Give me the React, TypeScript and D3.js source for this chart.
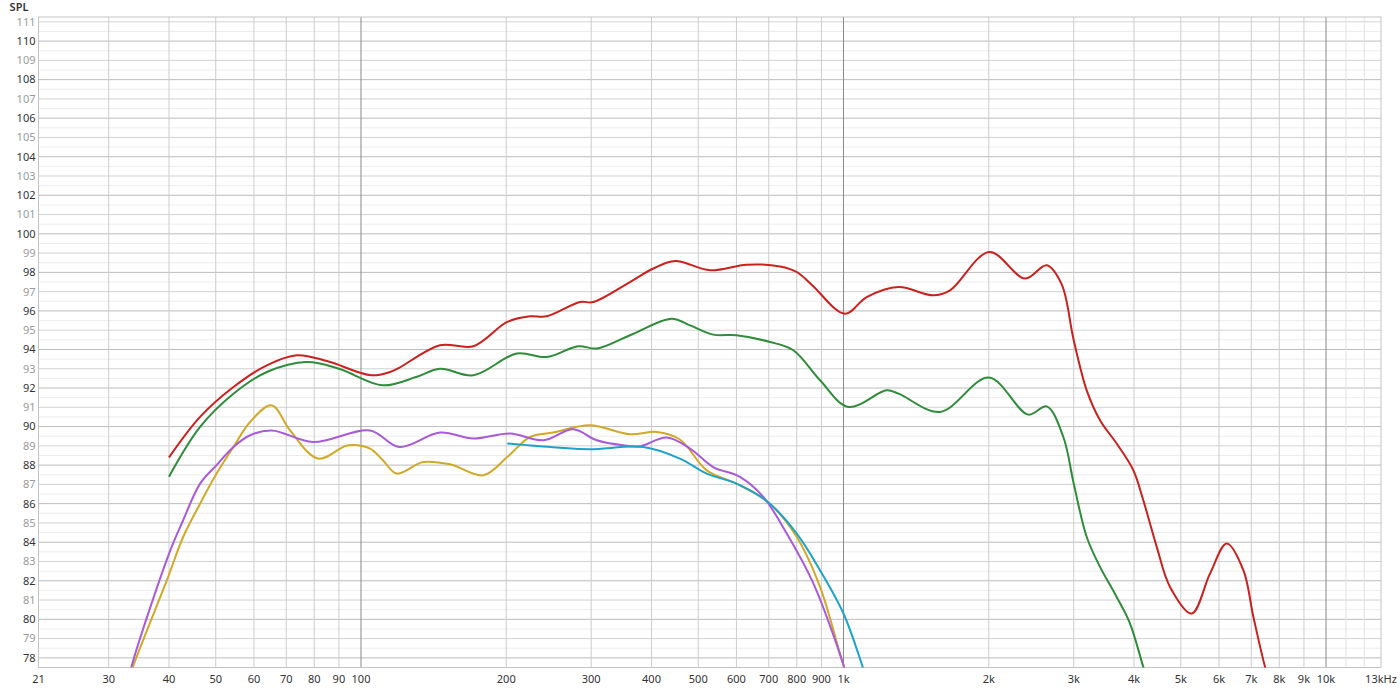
import * as d3 from "d3";

// frequency (Hz) / SPL (dB)
const redFreq = [40, 46.4, 54.4, 63.8, 73.6, 85, 105, 114.8, 120, 145.8, 170.9, 201, 224, 242.6, 284.4, 303, 361, 403.6, 447.5, 529, 630, 738.6, 800, 860, 1007, 1117, 1300, 1535, 1663, 2005, 2378, 2637, 2830, 3000, 3192, 3401, 3682, 3988, 4181, 4458, 4750, 5267, 5748, 6227, 6740, 7070, 7476, 7700];
const redSpl = [88.4, 90.5, 92.05, 93.18, 93.7, 93.4, 92.66, 92.83, 93.05, 94.22, 94.17, 95.43, 95.72, 95.72, 96.46, 96.46, 97.5, 98.2, 98.59, 98.11, 98.4, 98.31, 98.02, 97.35, 95.86, 96.72, 97.24, 96.81, 97.07, 99.06, 97.68, 98.37, 97.4, 94.48, 91.88, 90.33, 89.12, 87.73, 86.18, 83.76, 81.68, 80.3, 82.37, 83.93, 82.55, 80.13, 77.53, 76.5];

const greenFreq = [40, 46.4, 54.4, 63.8, 77.2, 90, 111, 130, 145.8, 170.9, 210.2, 242.6, 282, 308, 361, 440.5, 480.8, 537, 600, 704, 787, 894, 1023, 1229, 1300, 1585, 2000, 2415, 2637, 2855, 3000, 3192, 3401, 3682, 3925, 4181, 4300];
const greenSpl = [87.4, 89.98, 91.7, 92.83, 93.35, 93.0, 92.14, 92.57, 93.0, 92.66, 93.79, 93.61, 94.17, 94.05, 94.74, 95.6, 95.25, 94.77, 94.74, 94.39, 93.96, 92.4, 91.02, 91.88, 91.71, 90.76, 92.54, 90.62, 91.05, 89.46, 87.04, 84.27, 82.72, 81.16, 79.78, 77.53, 76.6];

const goldFreq = [33.0, 33.7, 39.6, 42.8, 46.4, 50.2, 54.4, 58.9, 65.3, 71.3, 81.5, 94.1, 104.4, 111, 118.6, 134.6, 153, 179.3, 201, 224, 250.3, 298, 361, 410, 458, 520.7, 600, 697, 800, 894, 983, 1000, 1020];
const goldSpl = [76.8, 77.55, 82.03, 84.27, 86.0, 87.56, 88.94, 90.24, 91.1, 89.8, 88.34, 89.03, 88.86, 88.25, 87.56, 88.16, 88.04, 87.47, 88.42, 89.46, 89.69, 90.07, 89.6, 89.72, 89.33, 87.73, 87.04, 86.09, 84.27, 81.68, 78.23, 77.62, 76.8];

const purpleFreq = [33.0, 33.5, 40, 42.8, 46.4, 50.2, 54.4, 58.9, 65.3, 79.6, 104.4, 120, 145.8, 170.9, 203.6, 238.7, 275.4, 308, 349.6, 378.6, 430, 480.8, 537, 610, 682, 762.7, 866, 1000, 1020];
const purpleSpl = [76.8, 77.6, 83.4, 85.14, 87.04, 88.0, 88.94, 89.55, 89.8, 89.2, 89.8, 88.94, 89.69, 89.38, 89.64, 89.29, 89.86, 89.29, 89.03, 88.98, 89.43, 88.86, 87.9, 87.39, 86.35, 84.45, 81.86, 77.62, 76.8];

const cyanFreq = [201, 254.4, 298, 384.7, 458, 520.7, 600, 697, 800, 894, 1000, 1096, 1120];
const cyanSpl = [89.12, 88.91, 88.82, 88.94, 88.34, 87.56, 87.04, 86.09, 84.45, 82.55, 80.3, 77.53, 76.8];

const series = [
  { name: "red", freq: redFreq, spl: redSpl, color: "#c9211e" },
  { name: "green", freq: greenFreq, spl: greenSpl, color: "#2f8c3a" },
  { name: "gold", freq: goldFreq, spl: goldSpl, color: "#d1a928" },
  { name: "purple", freq: purpleFreq, spl: purpleSpl, color: "#a85ad8" },
  { name: "cyan", freq: cyanFreq, spl: cyanSpl, color: "#1ea3c8" },
];

const xTicks = [21, 30, 40, 50, 60, 70, 80, 90, 100, 200, 300, 400, 500, 600, 700, 800, 900, 1000, 2000, 3000, 4000, 5000, 6000, 7000, 8000, 9000, 10000, 13000];
const xTickLabels = ["21", "30", "40", "50", "60", "70", "80", "90", "100", "200", "300", "400", "500", "600", "700", "800", "900", "1k", "2k", "3k", "4k", "5k", "6k", "7k", "8k", "9k", "10k", "13kHz"];
const xMinorLines = [11000, 12000];
const xDecades = [100, 1000, 10000];

const yTicks = d3.range(78, 112, 1);

const W = 1400;
const H = 691;
const left = 38.5;
const right = 1381;
const top = 17;
const bottom = 667.5;

export default function App() {
  const x = d3.scaleLog().domain([21.46, 13000]).range([left, right]);
  const y = d3.scaleLinear().domain([77.5, 111.25]).range([bottom, top]);

  const line = d3
    .line<[number, number]>()
    .x((d) => x(d[0]))
    .y((d) => y(d[1]))
    .curve(d3.curveCatmullRom.alpha(0.5));

  const halfLines = d3.range(78, 111.01, 0.5);
  const font = "'Noto Sans', 'Open Sans', sans-serif";

  return (
    <svg
      width={W}
      height={H}
      style={{ position: "absolute", left: 0, top: 0, background: "#fff" }}
      fontFamily={font}
    >
      <defs>
        <clipPath id="plot">
          <rect x={left} y={top} width={right - left} height={bottom - top} />
        </clipPath>
      </defs>

      {/* horizontal grid */}
      {halfLines.map((v) => {
        const isInt = Math.abs(v - Math.round(v)) < 1e-6;
        const even = isInt && Math.round(v) % 2 === 0;
        const stroke = !isInt ? "#ececec" : even ? "#bdbdbd" : "#d2d2d2";
        return (
          <line key={`h${v}`} x1={left} x2={right} y1={y(v)} y2={y(v)} stroke={stroke} strokeWidth={1} />
        );
      })}

      {/* vertical grid */}
      {xTicks.slice(1, -1).map((f) => (
        <line
          key={`v${f}`}
          x1={x(f)}
          x2={x(f)}
          y1={top}
          y2={bottom}
          stroke={xDecades.includes(f) ? "#8a8a8a" : "#cdcdcd"}
          strokeWidth={1}
        />
      ))}
      {xMinorLines.map((f) => (
        <line key={`m${f}`} x1={x(f)} x2={x(f)} y1={top} y2={bottom} stroke="#e2e2e2" strokeWidth={1} />
      ))}

      {/* frame */}
      <rect x={left} y={top} width={right - left} height={bottom - top} fill="none" stroke="#c4c4c4" strokeWidth={1} />

      {/* curves */}
      <g clipPath="url(#plot)">
        {series.map((s) => (
          <path
            key={s.name}
            d={line(s.freq.map((f, i) => [f, s.spl[i]] as [number, number])) ?? ""}
            fill="none"
            stroke={s.color}
            strokeWidth={2}
            strokeLinejoin="round"
          />
        ))}
      </g>

      {/* y labels */}
      {yTicks.map((v) => (
        <text
          key={`yl${v}`}
          x={35.5}
          y={y(v)}
          dy="0.35em"
          textAnchor="end"
          fontSize={11}
          fill={v % 2 === 0 ? "#333" : "#9a9a9a"}
        >
          {v}
        </text>
      ))}
      <text x={19} y={7} dy="0.35em" textAnchor="middle" fontSize={11} fill="#333" fontWeight={600}>
        SPL
      </text>

      {/* x labels */}
      {xTicks.map((f, i) => (
        <text
          key={`xl${f}`}
          x={Math.min(Math.max(x(f), left), right)}
          y={679.5}
          dy="0.35em"
          textAnchor="middle"
          fontSize={11}
          fill="#333"
        >
          {xTickLabels[i]}
        </text>
      ))}
    </svg>
  );
}
